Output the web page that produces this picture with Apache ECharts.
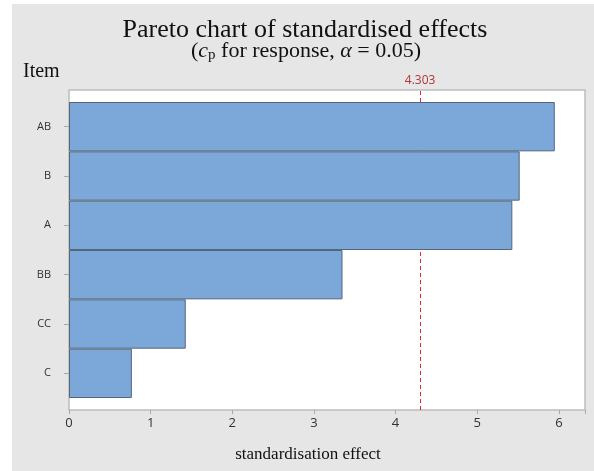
<!DOCTYPE html>
<html>
<head>
<meta charset="utf-8">
<script src="https://cdn.jsdelivr.net/npm/echarts@6/dist/echarts.min.js"></script>
<style>
  html, body { margin: 0; padding: 0; background: #ffffff; }
  #chart { width: 594px; height: 471px; }
</style>
</head>
<body>
<div id="chart"></div>
<script>
// Standardised effects, sorted largest first
const items = ['AB', 'B', 'A', 'BB', 'CC', 'C'];
const effects = [5.95, 5.52, 5.43, 3.35, 1.43, 0.77];
const xTicks = [0, 1, 2, 3, 4, 5, 6];
const criticalValue = 4.303;
const xMax = 6.32;

const serif = '"Liberation Serif", "Times New Roman", serif';
const sans = '"Open Sans", "Noto Sans", sans-serif';

const chart = echarts.init(document.getElementById('chart'), null, { renderer: 'canvas' });

chart.setOption({
  animation: false,
  backgroundColor: '#ffffff',
  graphic: [
    { type: 'rect', left: 12, top: 4, z: -10,
      shape: { width: 582, height: 467 },
      style: { fill: '#e6e6e6' } },
    { type: 'text', x: 305, y: 30, z: 10,
      style: { text: 'Pareto chart of standardised effects', font: '26px ' + serif,
               fill: '#111', align: 'center', verticalAlign: 'middle' } },
    { type: 'text', x: 306, y: 51, z: 10,
      style: {
        text: '{n|(}{i|c}{s|p}{n| for response, }{i|α}{n| = 0.05)}',
        align: 'center', verticalAlign: 'middle',
        rich: {
          n: { font: '22px ' + serif, fill: '#111' },
          i: { font: 'italic 22px ' + serif, fill: '#111' },
          s: { font: '15px ' + serif, fill: '#111', padding: [9, 0, 0, 0] }
        }
      } },
    { type: 'text', x: 23, y: 72, z: 10,
      style: { text: 'Item', font: '20px ' + serif, fill: '#111', verticalAlign: 'middle' } },
    { type: 'text', x: 308, y: 455, z: 10,
      style: { text: 'standardisation effect', font: '17px ' + serif, fill: '#111',
               align: 'center', verticalAlign: 'middle' } }
  ],
  grid: [
    // bars
    { left: 69, right: 9, top: 102, bottom: 73 },
    // plot frame with the critical-value line
    { left: 69, right: 9, top: 90, bottom: 61, show: true,
      backgroundColor: '#ffffff', borderColor: '#bdbdbd', borderWidth: 1.5 }
  ],
  xAxis: [
    { type: 'value', gridIndex: 0, min: 0, max: xMax, interval: 1, offset: 12,
      axisLine: { show: false },
      axisTick: { show: true, length: 4, lineStyle: { color: '#a8a8a8' } },
      splitLine: { show: false },
      axisLabel: { margin: 7, fontFamily: sans, fontSize: 13, color: '#333',
        formatter: v => (xTicks.indexOf(v) >= 0 ? String(v) : '') } },
    { type: 'value', gridIndex: 1, min: 0, max: xMax, show: false }
  ],
  yAxis: [
    { type: 'category', gridIndex: 0, data: items, inverse: true,
      axisLine: { show: false },
      axisTick: { show: true, length: 5, alignWithLabel: true, lineStyle: { color: '#a8a8a8' } },
      axisLabel: { margin: 18, fontFamily: sans, fontSize: 11, color: '#333' } },
    { type: 'value', gridIndex: 1, min: 0, max: 1, show: false }
  ],
  series: [
    { type: 'line', xAxisIndex: 1, yAxisIndex: 1, data: [], z: 1, silent: true,
      markLine: {
        z: 1,
        symbol: 'none', silent: true, animation: false,
        lineStyle: { color: '#e0262b', type: [4, 3], width: 1 },
        label: { show: true, position: 'end', distance: 3, formatter: String(criticalValue),
                 fontFamily: sans, fontSize: 12, color: '#b0363a' },
        data: [{ xAxis: criticalValue }]
      } },
    { type: 'bar', xAxisIndex: 0, yAxisIndex: 0, data: effects, z: 10,
      barWidth: '100%',
      itemStyle: { color: '#7ba7d9', borderColor: '#55667a', borderWidth: 1 } }
  ]
});
</script>
</body>
</html>
